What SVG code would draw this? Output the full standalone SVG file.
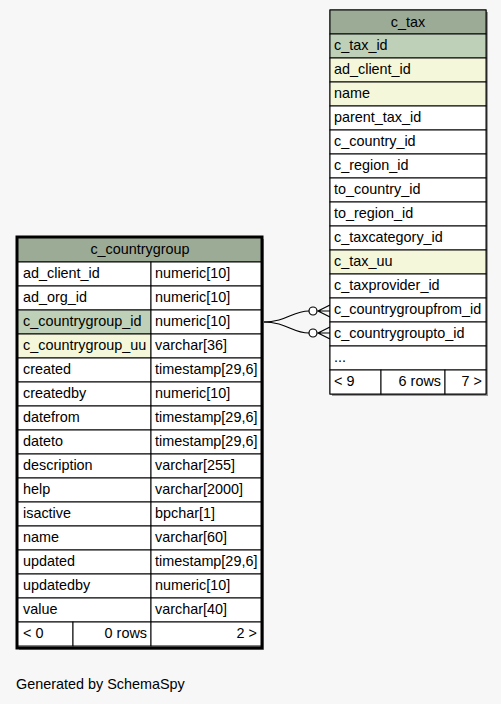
<svg xmlns="http://www.w3.org/2000/svg" width="501" height="704" viewBox="0 0 501 704">
<style>
text{font-family:"Liberation Sans",Arial,sans-serif;font-size:14.4px;fill:#000}
.c{stroke:#000;stroke-width:1;fill:#fff}
.h{fill:#9CAB96}
.pk{fill:#BED1B8}
.ix{fill:#F4F7DA}
.sh{fill:#999}
.m{text-anchor:middle}
.r{text-anchor:end}
.e{fill:none;stroke:#000;stroke-width:1.2}
</style>
<rect width="501" height="704" fill="#F7F7F7"/>
<g id="connectors">
<path class="e" d="M263,322 C287,322 292,311 309,311"/>
<circle cx="313" cy="311" r="4" fill="#fff" stroke="#000" stroke-width="1.2"/>
<path class="e" d="M330,305 L318,311 L330,317 M318,311 L330,311"/>
<path class="e" d="M263,322 C287,322 292,333 309,333"/>
<circle cx="313" cy="333" r="4" fill="#fff" stroke="#000" stroke-width="1.2"/>
<path class="e" d="M330,327 L318,333 L330,339 M318,333 L330,333"/>
</g>
<g id="c_tax">
<rect class="sh" x="332" y="12" width="156" height="384"/>
<rect x="330" y="10" width="156" height="384" fill="#fff" stroke="#000"/>
<rect class="c h" x="330" y="10" width="156" height="24"/>
<text class="m" x="408" y="27">c_tax</text>
<rect class="c pk" x="330" y="34" width="156" height="24"/><text x="334" y="50">c_tax_id</text>
<rect class="c ix" x="330" y="58" width="156" height="24"/><text x="334" y="74">ad_client_id</text>
<rect class="c ix" x="330" y="82" width="156" height="24"/><text x="334" y="98">name</text>
<rect class="c" x="330" y="106" width="156" height="24"/><text x="334" y="122">parent_tax_id</text>
<rect class="c" x="330" y="130" width="156" height="24"/><text x="334" y="146">c_country_id</text>
<rect class="c" x="330" y="154" width="156" height="24"/><text x="334" y="170">c_region_id</text>
<rect class="c" x="330" y="178" width="156" height="24"/><text x="334" y="194">to_country_id</text>
<rect class="c" x="330" y="202" width="156" height="24"/><text x="334" y="218">to_region_id</text>
<rect class="c" x="330" y="226" width="156" height="24"/><text x="334" y="242">c_taxcategory_id</text>
<rect class="c ix" x="330" y="250" width="156" height="24"/><text x="334" y="266">c_tax_uu</text>
<rect class="c" x="330" y="274" width="156" height="24"/><text x="334" y="290">c_taxprovider_id</text>
<rect class="c" x="330" y="298" width="156" height="24"/><text x="334" y="314">c_countrygroupfrom_id</text>
<rect class="c" x="330" y="322" width="156" height="24"/><text x="334" y="338">c_countrygroupto_id</text>
<rect class="c" x="330" y="346" width="156" height="24"/><text x="334" y="362">...</text>
<rect class="c" x="330" y="370" width="51" height="24"/><text x="334" y="386">&lt; 9</text>
<rect class="c" x="381" y="370" width="64" height="24"/><text class="r" x="441" y="386">6 rows</text>
<rect class="c" x="445" y="370" width="41" height="24"/><text class="r" x="482" y="386">7 &gt;</text>
</g>
<g id="c_countrygroup">
<rect class="sh" x="19" y="239" width="245" height="411"/>
<rect x="17" y="237" width="245" height="411" fill="#fff" stroke="#000" stroke-width="3"/>
<rect class="c h" x="18" y="238" width="243" height="24"/>
<text class="m" x="140" y="254">c_countrygroup</text>
<rect class="c" x="18" y="262" width="133" height="24"/><text x="23" y="278">ad_client_id</text>
<rect class="c" x="151" y="262" width="110" height="24"/><text x="155" y="278">numeric[10]</text>
<rect class="c" x="18" y="286" width="133" height="24"/><text x="23" y="302">ad_org_id</text>
<rect class="c" x="151" y="286" width="110" height="24"/><text x="155" y="302">numeric[10]</text>
<rect class="c pk" x="18" y="310" width="133" height="24"/><text x="23" y="326">c_countrygroup_id</text>
<rect class="c" x="151" y="310" width="110" height="24"/><text x="155" y="326">numeric[10]</text>
<rect class="c ix" x="18" y="334" width="133" height="24"/><text x="23" y="350">c_countrygroup_uu</text>
<rect class="c" x="151" y="334" width="110" height="24"/><text x="155" y="350">varchar[36]</text>
<rect class="c" x="18" y="358" width="133" height="24"/><text x="23" y="374">created</text>
<rect class="c" x="151" y="358" width="110" height="24"/><text x="155" y="374">timestamp[29,6]</text>
<rect class="c" x="18" y="382" width="133" height="24"/><text x="23" y="398">createdby</text>
<rect class="c" x="151" y="382" width="110" height="24"/><text x="155" y="398">numeric[10]</text>
<rect class="c" x="18" y="406" width="133" height="24"/><text x="23" y="422">datefrom</text>
<rect class="c" x="151" y="406" width="110" height="24"/><text x="155" y="422">timestamp[29,6]</text>
<rect class="c" x="18" y="430" width="133" height="24"/><text x="23" y="446">dateto</text>
<rect class="c" x="151" y="430" width="110" height="24"/><text x="155" y="446">timestamp[29,6]</text>
<rect class="c" x="18" y="454" width="133" height="24"/><text x="23" y="470">description</text>
<rect class="c" x="151" y="454" width="110" height="24"/><text x="155" y="470">varchar[255]</text>
<rect class="c" x="18" y="478" width="133" height="24"/><text x="23" y="494">help</text>
<rect class="c" x="151" y="478" width="110" height="24"/><text x="155" y="494">varchar[2000]</text>
<rect class="c" x="18" y="502" width="133" height="24"/><text x="23" y="518">isactive</text>
<rect class="c" x="151" y="502" width="110" height="24"/><text x="155" y="518">bpchar[1]</text>
<rect class="c" x="18" y="526" width="133" height="24"/><text x="23" y="542">name</text>
<rect class="c" x="151" y="526" width="110" height="24"/><text x="155" y="542">varchar[60]</text>
<rect class="c" x="18" y="550" width="133" height="24"/><text x="23" y="566">updated</text>
<rect class="c" x="151" y="550" width="110" height="24"/><text x="155" y="566">timestamp[29,6]</text>
<rect class="c" x="18" y="574" width="133" height="24"/><text x="23" y="590">updatedby</text>
<rect class="c" x="151" y="574" width="110" height="24"/><text x="155" y="590">numeric[10]</text>
<rect class="c" x="18" y="598" width="133" height="24"/><text x="23" y="614">value</text>
<rect class="c" x="151" y="598" width="110" height="24"/><text x="155" y="614">varchar[40]</text>
<rect class="c" x="18" y="622" width="55" height="24"/><text x="23" y="638">&lt; 0</text>
<rect class="c" x="73" y="622" width="78" height="24"/><text class="r" x="147" y="638">0 rows</text>
<rect class="c" x="151" y="622" width="110" height="24"/><text class="r" x="257" y="638">2 &gt;</text>
</g>
<text x="16" y="689">Generated by SchemaSpy</text>
</svg>
